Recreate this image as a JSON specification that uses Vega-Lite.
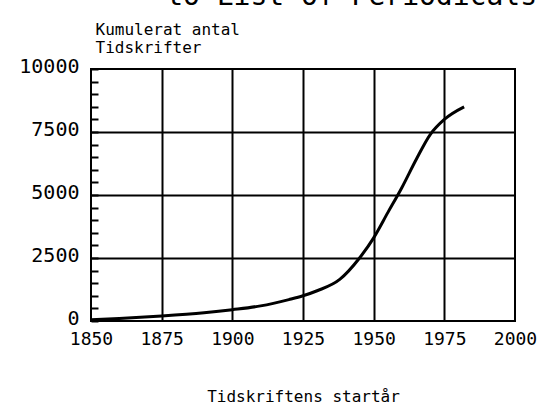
{
  "$schema": "https://vega.github.io/schema/vega-lite/v6.json",
  "autosize": "none",
  "width": 424,
  "height": 252,
  "padding": {"left": 91, "top": 69, "right": 23, "bottom": 92},
  "background": "white",
  "title": {
    "text": "to List of Periodicals",
    "anchor": "end",
    "frame": "group",
    "font": "DejaVu Sans Mono",
    "fontSize": 28,
    "fontWeight": "normal",
    "color": "black",
    "baseline": "alphabetic",
    "offset": -12,
    "dx": 22
  },
  "config": {
    "view": {"stroke": "black", "strokeWidth": 2},
    "axis": {
      "labelFont": "DejaVu Sans Mono",
      "labelColor": "black",
      "titleFont": "DejaVu Sans Mono",
      "titleColor": "black",
      "titleFontWeight": "normal",
      "domain": false,
      "gridColor": "black",
      "gridWidth": 2,
      "labelOverlap": false,
      "labelFlush": false
    }
  },
  "data": {
    "values": [
      {"year": 1850, "count": 50},
      {"year": 1860, "count": 100},
      {"year": 1875, "count": 200},
      {"year": 1890, "count": 330},
      {"year": 1900, "count": 450},
      {"year": 1910, "count": 600},
      {"year": 1920, "count": 850},
      {"year": 1925, "count": 1000},
      {"year": 1930, "count": 1200},
      {"year": 1938, "count": 1650},
      {"year": 1945, "count": 2500},
      {"year": 1950, "count": 3300},
      {"year": 1955, "count": 4300},
      {"year": 1960, "count": 5300},
      {"year": 1965, "count": 6400},
      {"year": 1970, "count": 7400},
      {"year": 1975, "count": 8000},
      {"year": 1982, "count": 8500}
    ]
  },
  "mark": {"type": "line", "color": "black", "strokeWidth": 3, "interpolate": "monotone"},
  "encoding": {
    "x": {
      "field": "year",
      "type": "quantitative",
      "scale": {"domain": [1850, 2000], "nice": false, "zero": false},
      "axis": {
        "values": [1850, 1875, 1900, 1925, 1950, 1975, 2000],
        "format": "d",
        "ticks": false,
        "labelFontSize": 18,
        "labelPadding": 9,
        "title": "Tidskriftens startår",
        "titleFontSize": 16,
        "titlePadding": 40,
        "gridOpacity": {"condition": {"test": "datum.value > 1850 && datum.value < 2000", "value": 1}, "value": 0}
      }
    },
    "y": {
      "field": "count",
      "type": "quantitative",
      "scale": {"domain": [0, 10000], "nice": false},
      "axis": {
        "values": [0, 500, 1000, 1500, 2000, 2500, 3000, 3500, 4000, 4500, 5000, 5500, 6000, 6500, 7000, 7500, 8000, 8500, 9000, 9500, 10000],
        "labelExpr": "datum.value % 2500 == 0 ? format(datum.value, 'd') : ''",
        "labelFontSize": 20,
        "labelPadding": 19,
        "labelOffset": -3,
        "tickSize": -7,
        "tickWidth": 2,
        "tickColor": "black",
        "title": ["Kumulerat antal", "Tidskrifter"],
        "titleFontSize": 16,
        "titleLineHeight": 18,
        "titleAngle": 0,
        "titleAlign": "left",
        "titleBaseline": "alphabetic",
        "titleX": 4,
        "titleY": -35,
        "gridOpacity": {"condition": {"test": "datum.value % 2500 == 0 && datum.value > 0 && datum.value < 10000", "value": 1}, "value": 0}
      }
    }
  }
}
